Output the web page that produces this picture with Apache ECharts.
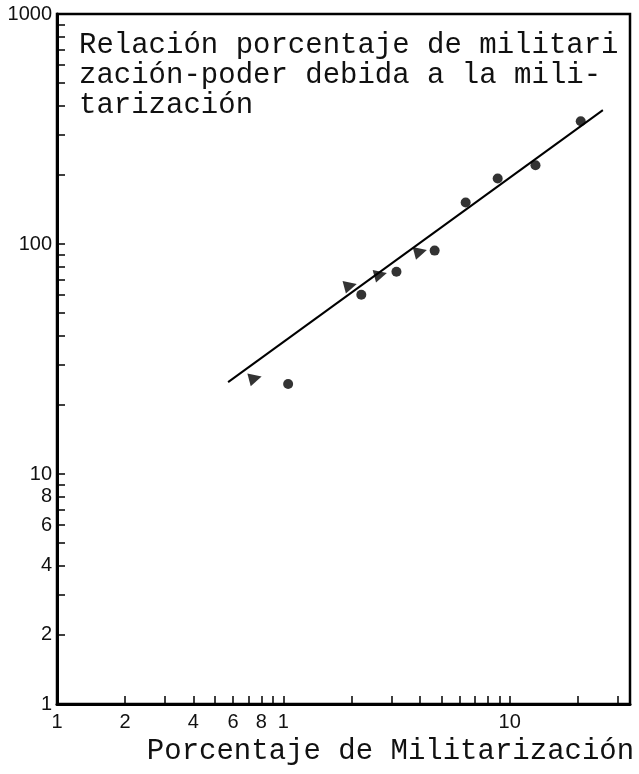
<!DOCTYPE html>
<html>
<head>
<meta charset="utf-8">
<script src="https://cdn.jsdelivr.net/npm/echarts@6/dist/echarts.min.js"></script>
<style>
html,body{margin:0;padding:0;background:#fff;}
#chart{width:639px;height:774px;}
</style>
</head>
<body>
<div id="chart"></div>
<script>
const circleX = [1.05, 2.21, 3.16, 4.66, 6.39, 8.85, 13.0, 20.6];
const circleY = [24.6, 60.2, 75.8, 93.6, 151.6, 192.8, 219.8, 341.7];
const triangleX = [0.752, 1.98, 2.69, 4.04];
const triangleY = [26.1, 65.9, 73.6, 92.6];
const fitX = [0.57, 25.8];
const fitY = [25.1, 382];

const xRange = [0.1, 34];
const yRange = [1, 1000];
const xTickValues = [0.1,0.2,0.3,0.4,0.5,0.6,0.7,0.8,0.9,1,2,3,4,5,6,7,8,9,10,20,30];
const xLabelValues = [0.1, 0.2, 0.4, 0.6, 0.8, 1, 10];
const xLabelTexts = ['1', '2', '4', '6', '8', '1', '10'];
const yTickValues = [1,2,3,4,5,6,7,8,9,10,20,30,40,50,60,70,80,90,100,200,300,400,500,600,700,800,900,1000];
const yLabelValues = [1, 2, 4, 6, 8, 10, 100, 1000];
const yLabelTexts = ['1', '2', '4', '6', '8', '10', '100', '1000'];

const titleText = 'Relación porcentaje de militari\nzación-poder debida a la mili-\ntarización';
const xAxisName = 'Porcentaje de Militarización';

const lg = v => Math.log10(v);
const pairs = (xs, ys) => xs.map((x, i) => [lg(x), lg(ys[i])]);
const labelFor = (vals, texts) => v => {
  const i = vals.findIndex(x => Math.abs(lg(x) - v) < 1e-6);
  return i >= 0 ? texts[i] : '';
};

const chart = echarts.init(document.getElementById('chart'), null, {renderer: 'canvas'});
chart.setOption({
  animation: false,
  backgroundColor: '#ffffff',
  title: {
    text: titleText,
    left: 79, top: 30, padding: 0,
    textStyle: {
      fontFamily: 'Liberation Mono', fontSize: 29, fontWeight: 'normal',
      color: '#111', lineHeight: 30
    }
  },
  grid: {
    left: 57, right: 9, top: 14, bottom: 70,
    show: true, borderColor: '#000', borderWidth: 2.5, backgroundColor: 'transparent'
  },
  xAxis: {
    type: 'value',
    min: lg(xRange[0]), max: lg(xRange[1]),
    name: xAxisName,
    nameLocation: 'middle',
    nameGap: 32,
    nameTextStyle: {
      fontFamily: 'Liberation Mono', fontSize: 29, color: '#111',
      padding: [0, 0, 0, 94], verticalAlign: 'top'
    },
    axisLine: {show: true, onZero: false, lineStyle: {color: '#000', width: 3}},
    axisTick: {show: true, inside: true, length: 8, customValues: xTickValues.map(lg),
      lineStyle: {color: '#000', width: 1.5}},
    axisLabel: {
      customValues: xLabelValues.map(lg),
      formatter: labelFor(xLabelValues, xLabelTexts),
      margin: 8, fontFamily: 'Liberation Sans', fontSize: 20, color: '#111',
      showMinLabel: true, showMaxLabel: true
    },
    splitLine: {show: false}
  },
  yAxis: {
    type: 'value',
    min: lg(yRange[0]), max: lg(yRange[1]),
    axisLine: {show: true, onZero: false, lineStyle: {color: '#000', width: 3}},
    axisTick: {show: true, inside: true, length: 8, customValues: yTickValues.map(lg),
      lineStyle: {color: '#000', width: 1.5}},
    axisLabel: {
      customValues: yLabelValues.map(lg),
      formatter: labelFor(yLabelValues, yLabelTexts),
      margin: 5, fontFamily: 'Liberation Sans', fontSize: 20, color: '#111',
      showMinLabel: true, showMaxLabel: true
    },
    splitLine: {show: false}
  },
  series: [
    {
      type: 'line',
      data: pairs(fitX, fitY),
      showSymbol: false,
      lineStyle: {color: '#000', width: 2},
      z: 2
    },
    {
      type: 'scatter',
      data: pairs(circleX, circleY),
      symbol: 'circle',
      symbolSize: 10,
      itemStyle: {color: '#000'},
      z: 3
    },
    {
      type: 'scatter',
      data: pairs(triangleX, triangleY),
      symbol: 'triangle',
      symbolSize: 13,
      symbolRotate: -75,
      itemStyle: {color: '#000'},
      z: 3
    }
  ]
});
</script>
</body>
</html>
